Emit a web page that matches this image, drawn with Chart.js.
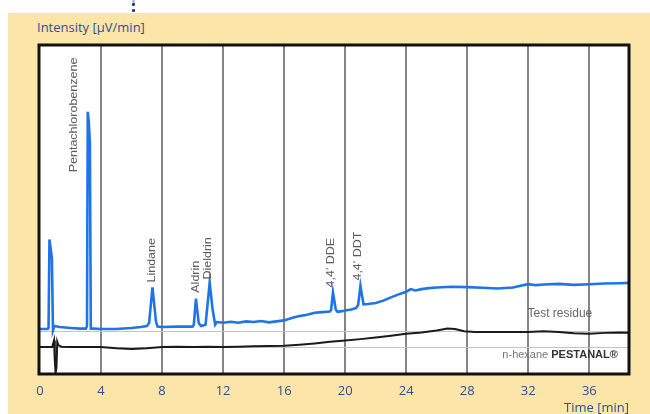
<!DOCTYPE html>
<html>
<head>
<meta charset="utf-8">
<script src="https://cdn.jsdelivr.net/npm/chart.js@4/dist/chart.umd.min.js"></script>
<style>
  html, body { margin: 0; padding: 0; background: #ffffff; width: 650px; height: 414px; overflow: hidden; }
  #panel { position: absolute; left: 8px; top: 13px; width: 642px; height: 401px; background: #fce5a9; }
  #yTitle { position: absolute; left: 37px; top: 18px; font: 13px "Open Sans", sans-serif; color: #2f4f93; white-space: nowrap; }
  .dot { position: absolute; left: 132px; width: 3px; height: 3px; background: #1b3b8f; border-radius: 1px; }
  #chart { position: absolute; left: 0; top: 0; }
</style>
</head>
<body>
<div id="panel"></div>
<div class="dot" style="top:0px;opacity:0.35"></div>
<div class="dot" style="top:3px"></div>
<div class="dot" style="top:9px"></div>
<div id="yTitle">Intensity [µV/min]</div>
<canvas id="chart" width="650" height="414"></canvas>
<script>
// Retention time axis (minutes)
const timeTicks = [0, 4, 8, 12, 16, 20, 24, 28, 32, 36];
const timeMax = 38.6;

// Test residue trace (blue)
const residueTimes = [
  0, 0.5, 0.56, 0.62, 0.7, 0.78, 0.85, 0.95, 1.3, 2.0, 2.6, 3.0,
  3.08, 3.13, 3.2, 3.27, 3.33, 3.5, 4.0, 5.0, 6.0, 6.6, 7.0, 7.15,
  7.37, 7.6, 7.7, 8.0, 9.0, 10.0, 10.08, 10.22, 10.4, 10.55, 10.85, 11.12,
  11.3, 11.48, 11.6, 12.0, 12.5, 13.0, 13.5, 14.0, 14.5, 15.0, 15.5, 16.0,
  16.5, 17.0, 17.5, 18.0, 18.5, 19.0, 19.08, 19.2, 19.38, 19.5, 19.8, 20.0,
  20.4, 20.7, 20.85, 21.0, 21.2, 21.5, 22.0, 22.5, 23.0, 23.5, 24.0, 24.3,
  24.6, 25.0, 25.5, 26.0, 27.0, 28.0, 29.0, 30.0, 31.0, 31.5, 32.0, 32.5,
  33.0, 34.0, 35.0, 36.0, 37.0, 38.0, 38.6
];
const residueValues = [
  13.7, 13.7, 14.0, 40.9, 38.0, 35.2, 13.2, 14.6, 14.3, 14.0, 13.8, 13.8,
  14.5, 79.7, 76.5, 70.0, 13.8, 13.8, 13.7, 13.7, 14.0, 14.3, 14.6, 15.5,
  26.3, 16.0, 14.4, 14.3, 14.4, 14.4, 15.0, 22.9, 15.5, 14.6, 15.0, 27.8,
  20.0, 15.0, 15.8, 15.6, 15.9, 15.6, 16.0, 15.8, 16.1, 15.7, 16.0, 16.3,
  17.0, 17.6, 18.0, 18.6, 18.8, 19.0, 19.5, 24.8, 19.6, 18.9, 19.1, 19.3,
  19.6, 20.0, 21.0, 26.8, 21.2, 21.3, 21.6, 22.3, 23.3, 24.2, 25.0, 25.8,
  25.4, 25.8, 26.1, 26.3, 26.5, 26.4, 26.2, 26.0, 26.3, 26.8, 27.3, 27.0,
  27.2, 27.4, 27.1, 27.3, 27.5, 27.6, 27.7
];

// Solvent blank trace (black)
const blankTimes = [
  0, 0.8, 0.92, 0.97, 1.02, 1.08, 1.13, 1.2, 1.4, 2, 3, 4,
  5, 6, 7, 8, 9, 10, 11, 12, 13, 14, 15, 16,
  17, 18, 19, 20, 21, 22, 23, 24, 25, 26, 26.7, 27.2,
  27.8, 28.5, 30, 32, 33, 34, 35, 36, 37, 38, 38.6
];
const blankValues = [
  8.2, 8.2, 10.2, 4.0, 0.3, 2.0, 9.8, 8.8, 8.3, 8.2, 8.2, 8.2,
  7.8, 7.6, 7.8, 8.2, 8.3, 8.2, 8.3, 8.2, 8.3, 8.4, 8.5, 8.6,
  8.9, 9.3, 9.8, 10.2, 10.6, 11.1, 11.6, 12.2, 12.6, 13.2, 13.8, 13.7,
  13.0, 12.8, 12.8, 12.8, 13.0, 12.8, 12.4, 12.2, 12.5, 12.6, 12.5
];

// Baseline reference levels
const referenceLevels = [13.1, 8.1];

// Peak identifications
const peakNames = ['Pentachlorobenzene', 'Lindane', 'Aldrin', 'Dieldrin', "4,4' DDE", "4,4' DDT"];
const peakLabelTimes = [2.23, 7.35, 10.24, 11.04, 19.09, 20.87];
const peakLabelLevels = [61.3, 27.8, 24.7, 28.7, 26.3, 28.4];

// Trace names
const traceNames = ['Test residue', 'n-hexane ', 'PESTANAL®'];
const traceLabelTimes = [31.95, 30.3];
const traceLabelLevels = [18.3, 5.8];

const toPoints = (xs, ys) => xs.map((x, i) => ({ x: x, y: ys[i] }));

const framePlugin = {
  id: 'frame',
  beforeDraw(chart) {
    const { ctx, chartArea: a } = chart;
    ctx.save();
    ctx.fillStyle = '#ffffff';
    ctx.fillRect(a.left, a.top, a.right - a.left, a.bottom - a.top);
    ctx.restore();
  },
  beforeDatasetsDraw(chart) {
    const { ctx, chartArea: a, scales } = chart;
    ctx.save();
    ctx.strokeStyle = '#c4c4c4';
    ctx.lineWidth = 1;
    referenceLevels.forEach(v => {
      const y = Math.round(scales.y.getPixelForValue(v)) + 0.5;
      ctx.beginPath();
      ctx.moveTo(a.left, y);
      ctx.lineTo(a.right, y);
      ctx.stroke();
    });
    ctx.restore();
  },
  afterDraw(chart) {
    const { ctx, chartArea: a, scales } = chart;
    const xs = scales.x, ys = scales.y;
    ctx.save();
    // rotated peak names
    ctx.fillStyle = '#5c5c5c';
    ctx.font = '12.5px "Liberation Sans", Arial, sans-serif';
    ctx.textAlign = 'left';
    ctx.textBaseline = 'middle';
    peakNames.forEach((name, i) => {
      const x = xs.getPixelForValue(peakLabelTimes[i]);
      const y = ys.getPixelForValue(peakLabelLevels[i]);
      ctx.save();
      ctx.translate(x, y);
      ctx.rotate(-Math.PI / 2);
      ctx.scale(1, 0.8);
      ctx.fillText(name, 0, 0);
      ctx.restore();
    });
    // trace names
    ctx.textBaseline = 'middle';
    ctx.fillStyle = '#666666';
    ctx.font = '12px "Liberation Sans", Arial, sans-serif';
    ctx.fillText(traceNames[0], xs.getPixelForValue(traceLabelTimes[0]), ys.getPixelForValue(traceLabelLevels[0]));
    let x2 = xs.getPixelForValue(traceLabelTimes[1]);
    const y2 = ys.getPixelForValue(traceLabelLevels[1]);
    ctx.font = '11px "Liberation Sans", Arial, sans-serif';
    ctx.fillStyle = '#777777';
    ctx.fillText(traceNames[1], x2, y2);
    x2 += ctx.measureText(traceNames[1]).width;
    ctx.font = 'bold 11px "Liberation Sans", Arial, sans-serif';
    ctx.fillStyle = '#333333';
    ctx.fillText(traceNames[2], x2, y2);
    // plot frame
    ctx.strokeStyle = '#111111';
    ctx.lineWidth = 3;
    ctx.strokeRect(a.left - 1, a.top, a.right - a.left + 1, a.bottom - a.top);
    ctx.restore();
  }
};

new Chart(document.getElementById('chart'), {
  type: 'line',
  data: {
    datasets: [
      {
        label: traceNames[0],
        data: toPoints(residueTimes, residueValues),
        borderColor: '#1f74e8',
        borderWidth: 2.6,
        pointRadius: 0,
        tension: 0,
        fill: false
      },
      {
        label: 'n-hexane PESTANAL®',
        data: toPoints(blankTimes, blankValues),
        borderColor: '#1a1a1a',
        borderWidth: 2,
        pointRadius: 0,
        tension: 0,
        fill: false
      }
    ]
  },
  options: {
    responsive: false,
    animation: false,
    devicePixelRatio: 1,
    layout: { padding: { left: 40, right: 21, top: 45, bottom: -4 } },
    plugins: { legend: { display: false }, tooltip: { enabled: false } },
    scales: {
      x: {
        type: 'linear',
        min: 0,
        max: timeMax,
        afterBuildTicks(scale) { scale.ticks = timeTicks.map(v => ({ value: v })); },
        ticks: {
          color: '#2f4f93',
          font: { family: '"Open Sans", sans-serif', size: 13 },
          padding: 9,
          maxRotation: 0,
          autoSkip: false
        },
        grid: {
          color: ctx => (ctx.tick && ctx.tick.value === 0 ? 'rgba(0,0,0,0)' : '#858585'),
          lineWidth: 2,
          drawTicks: false
        },
        border: { display: false },
        title: {
          display: true,
          text: 'Time [min]',
          align: 'end',
          color: '#2f4f93',
          font: { family: '"Open Sans", sans-serif', size: 13, lineHeight: 0.8 },
          padding: { top: -5, bottom: 5 }
        }
      },
      y: { display: false, min: 0, max: 100 }
    }
  },
  plugins: [framePlugin]
});
</script>
</body>
</html>
